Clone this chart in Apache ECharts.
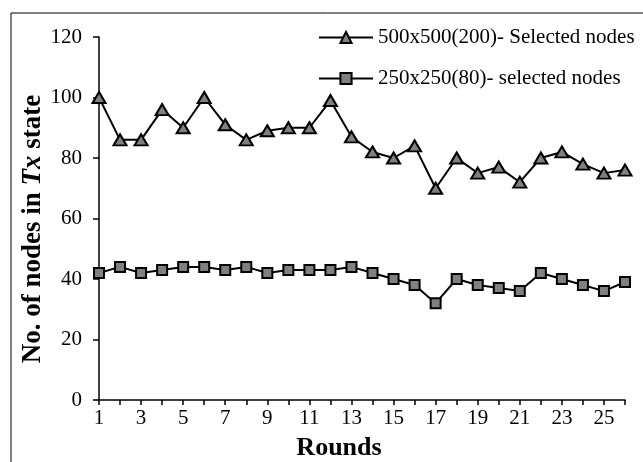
<!DOCTYPE html>
<html>
<head>
<meta charset="utf-8">
<script src="https://cdn.jsdelivr.net/npm/echarts@6/dist/echarts.min.js"></script>
<style>
  html, body { margin: 0; padding: 0; background: #fff; }
  #chart { width: 643px; height: 462px; }
</style>
</head>
<body>
<div id="chart"></div>
<script>
// rounds 1..26
const rounds = ['1','2','3','4','5','6','7','8','9','10','11','12','13','14','15','16','17','18','19','20','21','22','23','24','25','26'];
// 500x500(200) selected nodes
const bigArea = [100, 86, 86, 96, 90, 100, 91, 86, 89, 90, 90, 99, 87, 82, 80, 84, 70, 80, 75, 77, 72, 80, 82, 78, 75, 76];
// 250x250(80) selected nodes
const smallArea = [42, 44, 42, 43, 44, 44, 43, 44, 42, 43, 43, 43, 44, 42, 40, 38, 32, 40, 38, 37, 36, 42, 40, 38, 36, 39];
const yTicks = [0, 20, 40, 60, 80, 100, 120];

const serif = '"Liberation Serif", "Times New Roman", serif';
const chart = echarts.init(document.getElementById('chart'));

const option = {
    backgroundColor: '#fff',
    animation: false,
    grid: { left: 99, right: 18, top: 37, bottom: 62 },
    legend: {
        orient: 'vertical',
        left: 313,
        top: 22,
        itemWidth: 54,
        itemHeight: 14,
        itemGap: 20,
        textStyle: { fontFamily: serif, fontSize: 21, color: '#000' },
        data: ['500x500(200)- Selected nodes', '250x250(80)- selected nodes']
    },
    xAxis: {
        type: 'category',
        boundaryGap: false,
        data: rounds,
        axisLine: { lineStyle: { color: '#000', width: 1.5 } },
        axisTick: { interval: 0, length: 5, lineStyle: { color: '#000', width: 1.5 } },
        axisLabel: { interval: 1, margin: 8, fontFamily: serif, fontSize: 21, color: '#000' },
        splitLine: { show: false }
    },
    yAxis: {
        type: 'value',
        min: yTicks[0],
        max: yTicks[yTicks.length - 1],
        interval: 20,
        axisLine: { show: true, lineStyle: { color: '#000', width: 1.5 } },
        axisTick: { show: true, length: 6, lineStyle: { color: '#000', width: 1.5 } },
        axisLabel: { margin: 17, fontFamily: serif, fontSize: 21, color: '#000' },
        splitLine: { show: false }
    },
    series: [
        {
            name: '500x500(200)- Selected nodes',
            type: 'line',
            data: bigArea,
            symbol: 'triangle',
            symbolSize: [13, 11],
            lineStyle: { color: '#000', width: 2 },
            itemStyle: { color: '#808080', borderColor: '#000', borderWidth: 2 }
        },
        {
            name: '250x250(80)- selected nodes',
            type: 'line',
            data: smallArea,
            symbol: 'rect',
            symbolSize: 10,
            lineStyle: { color: '#000', width: 2 },
            itemStyle: { color: '#808080', borderColor: '#000', borderWidth: 2 }
        }
    ],
    graphic: [
        {
            type: 'rect',
            shape: { x: 11, y: 13, width: 700, height: 500 },
            style: { fill: 'none', stroke: '#000', lineWidth: 1 },
            silent: true
        },
        {
            type: 'text',
            x: 33, y: 229,
            rotation: Math.PI / 2,
            style: {
                text: '{b|No. of nodes in }{i|Tx}{b| state}',
                align: 'center',
                verticalAlign: 'middle',
                rich: {
                    b: { fontFamily: serif, fontSize: 27, fontWeight: 'bold', fill: '#000' },
                    i: { fontFamily: serif, fontSize: 27, fontWeight: 'bold', fontStyle: 'italic', fill: '#000' }
                }
            }
        },
        {
            type: 'text',
            x: 339, y: 448,
            style: {
                text: 'Rounds',
                align: 'center',
                verticalAlign: 'middle',
                fontFamily: serif, fontSize: 26, fontWeight: 'bold', fill: '#000'
            }
        }
    ]
};
chart.setOption(option);
</script>
</body>
</html>
